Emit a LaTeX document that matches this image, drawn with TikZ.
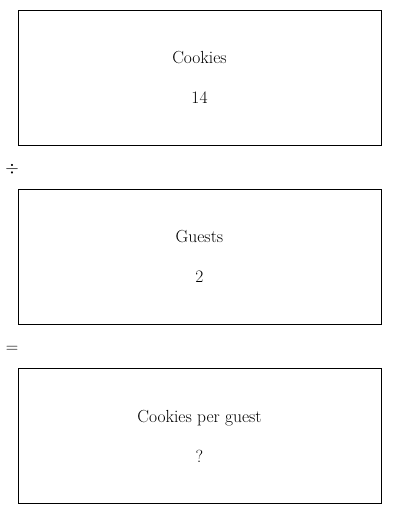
\documentclass[tikz,border=0pt]{standalone}
\usetikzlibrary{positioning}

\tikzset{
  qbox/.style={rectangle, draw=black, line width=0.8pt,
               minimum width=363pt, minimum height=135pt,
               align=center, font=\fontsize{17.5}{40}\selectfont},
  opsign/.style={font=\fontsize{16}{18}\selectfont, inner sep=0pt}
}

\begin{document}
\begin{tikzpicture}[x=1pt, y=-1pt]
\useasboundingbox (0,0) rectangle (400,514);

% Quantity boxes
\node[qbox] (cookies) at (199.5,77.5) {Cookies\\14};
\node[qbox, below=43.5pt of cookies] (guests) {Guests\\2};
\node[qbox, below=43.5pt of guests] (perguest) {Cookies per guest\\?};

% Operation signs
\node[opsign] (divsign) at (12,169) {$\div$};
\node[opsign] (eqsign) at (12,349) {$=$};

\end{tikzpicture}
\end{document}
